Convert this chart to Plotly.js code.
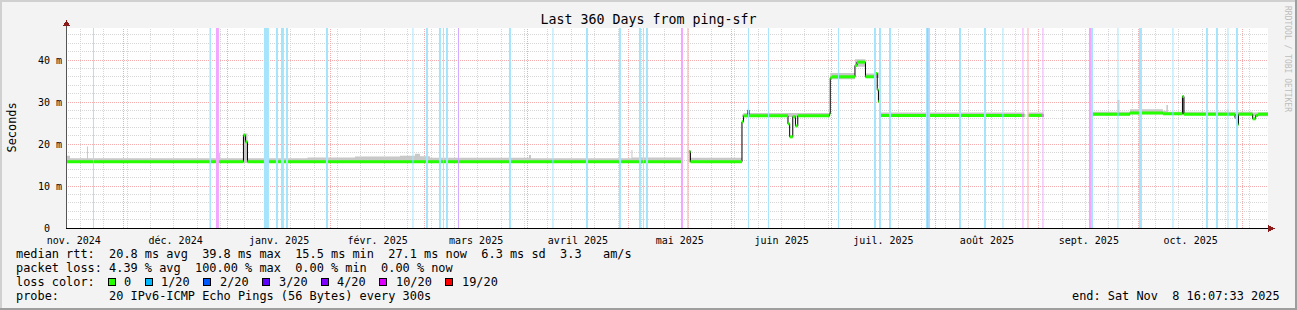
<!DOCTYPE html>
<html>
<head>
<meta charset="utf-8">
<script src="https://cdn.plot.ly/plotly-3.0.1.min.js"></script>
<style>
html,body{margin:0;padding:0;background:#f3f3f3;}
#chart{width:1297px;height:310px;}
#chart .shapelayer path{shape-rendering:crispEdges;}
</style>
</head>
<body>
<div id="chart"></div>
<script>
// ---------------- data ----------------
const chartTitle = 'Last 360 Days from ping-sfr';
const yAxisTitle = 'Seconds';
const rangeStart = '2024-11-13 16:07:33';
const rangeEnd = '2025-11-08 16:07:33';

const monthStarts = ['2024-11-01 00:00','2024-12-01 00:00','2025-01-01 00:00','2025-02-01 00:00','2025-03-01 00:00',
  '2025-04-01 00:00','2025-05-01 00:00','2025-06-01 00:00','2025-07-01 00:00','2025-08-01 00:00',
  '2025-09-01 00:00','2025-10-01 00:00','2025-11-01 00:00','2025-12-01 00:00'];
const monthLabels = ['nov. 2024','déc. 2024','janv. 2025','févr. 2025','mars 2025','avril 2025',
  'mai 2025','juin 2025','juil. 2025','août 2025','sept. 2025','oct. 2025'];
const weekGridStart = '2024-11-18 00:00';

const yTickVals = [0, 10, 20, 30, 40];
const yTickText = ['0', '10 m', '20 m', '30 m', '40 m'];
const yMinorStep = 2;
const yMax = 47.62;

// median rtt (ms), step values starting at each time; null = no data
const medianTimes = [
  '2024-11-13 16:07','2025-01-05 19:40','2025-01-06 10:00','2025-01-07 00:30',
  '2025-05-16 20:24','2025-05-17 10:50','2025-05-19 05:45','2025-05-19 16:30',
  '2025-06-04 03:00','2025-06-04 13:40','2025-06-05 22:00','2025-06-06 05:20',
  '2025-06-17 21:40','2025-06-18 09:50','2025-06-19 08:10','2025-06-20 03:20','2025-06-20 20:00',
  '2025-06-30 08:00','2025-06-30 13:40','2025-07-01 02:00',
  '2025-07-07 23:10','2025-07-08 13:40','2025-07-11 02:40',
  '2025-07-14 01:10','2025-07-14 15:20','2025-07-15 00:00','2025-07-15 13:00',
  '2025-08-27 17:30','2025-08-28 22:20','2025-09-02 10:00',
  '2025-09-16 07:00','2025-09-16 12:00','2025-09-28 07:40','2025-10-08 04:50',
  '2025-10-14 01:10','2025-10-14 12:00',
  '2025-10-29 18:30','2025-10-30 08:50','2025-10-30 19:40',
  '2025-11-04 01:40','2025-11-04 23:20','2025-11-05 15:50','2025-11-08 16:07'
];
const medianValues = [
  15.8, 22.1, 20.5, 15.8,
  15.8, null, 18.2, 15.8,
  25.3, 26.7, 28.1, 26.7,
  24.8, 21.7, 26.5, 24.3, 26.7,
  27.2, 35.7, 36.0,
  38.7, 39.5, 36.0,
  36.8, 32.9, 30.1, 26.8,
  null, 26.8, null,
  18.0, 27.1, 27.4, 27.2,
  31.3, 27.1,
  26.3, 24.6, 27.1,
  26.0, 26.8, 27.1, 27.1
];

// smoke envelope (ms), step values
const smokeTimes = [
  '2024-11-13 16:07','2024-11-13 23:20','2024-11-14 20:40','2024-11-19 22:50','2024-11-20 06:00',
  '2024-12-29 08:00','2024-12-29 18:40','2025-01-05 19:40','2025-01-07 00:30','2025-01-12 09:50',
  '2025-01-13 07:30','2025-01-25 00:00','2025-02-08 05:00','2025-02-21 16:30','2025-02-26 04:20',
  '2025-02-27 16:20','2025-03-02 16:00','2025-04-01 08:00','2025-04-01 22:20','2025-05-02 00:30',
  '2025-05-02 07:40','2025-05-05 11:20','2025-05-05 18:30','2025-05-17 10:50','2025-05-19 05:45',
  '2025-05-19 16:30','2025-06-04 03:00','2025-06-04 13:40','2025-06-05 22:00','2025-06-06 05:20',
  '2025-06-17 21:40','2025-06-20 20:00','2025-06-30 08:00','2025-06-30 13:40','2025-07-07 23:10',
  '2025-07-11 02:40','2025-07-14 01:10','2025-07-15 13:00','2025-07-29 09:10','2025-07-29 20:00',
  '2025-08-27 17:30','2025-08-28 22:20','2025-09-02 10:00','2025-09-16 07:00','2025-09-16 12:00',
  '2025-09-24 13:50','2025-09-25 04:20','2025-09-28 07:40','2025-10-08 04:50','2025-10-09 06:00',
  '2025-10-09 16:50','2025-10-14 01:10','2025-10-14 12:00','2025-10-27 12:45','2025-10-27 19:55',
  '2025-10-29 18:30','2025-10-30 19:40','2025-11-04 01:40','2025-11-04 23:20','2025-11-08 16:07'
];
const smokeLow = [
  15.5,15.5,15.5,15.5,15.5, 15.5,15.5,15.6,15.5,15.5, 15.5,15.5,15.5,15.5,15.5,
  15.5,15.5,15.5,15.5,15.5, 15.5,15.5,15.5,null,15.6, 15.5,26.4,26.4,26.4,26.4,
  26.4,26.4,26.9,35.4,38.4, 35.7,35.7,26.5,26.5,26.5, null,26.5,null,26.8,26.8,
  26.8,26.8,27.1,26.9,26.9, 26.8,26.8,26.8,26.8,26.8, 26.8,26.8,26.6,26.6,26.6
];
const smokeHigh = [
  16.6,17.2,16.6,19.4,16.6, 17.9,16.6,22.5,16.6,22.9, 16.6,16.8,17.0,17.2,17.7,
  17.1,16.7,17.4,16.6,18.6, 16.8,22.5,16.8,null,18.6, 16.7,27.0,27.4,28.6,27.4,
  27.4,27.4,27.6,36.9,40.2, 36.8,37.0,27.5,37.2,27.5, null,27.5,null,27.4,27.7,
  30.5,27.7,28.3,27.9,29.3, 27.7,31.5,27.7,28.3,27.7, 27.7,27.7,27.5,27.6,27.6
];
// darker smoke cores of spikes
const darkStart = ['2025-01-12 09:50','2025-07-29 10:30'];
const darkEnd = ['2025-01-13 07:30','2025-07-30 01:00'];
const darkLow = [15.8, 26.9];
const darkHigh = [22.0, 31.7];

// packet loss periods (loss class in n/20)
const lossStart = [
  '2024-11-21 18:00','2024-12-26 15:20','2024-12-28 14:00','2025-01-11 23:00','2025-01-15 13:10',
  '2025-01-17 01:10','2025-01-18 13:10','2025-01-30 12:40','2025-02-25 10:30','2025-03-01 11:30',
  '2025-03-05 08:50','2025-03-06 13:40','2025-03-07 11:20','2025-03-11 01:30','2025-03-26 08:10',
  '2025-04-08 08:40','2025-04-18 09:40','2025-04-28 06:40','2025-05-04 06:30','2025-05-05 11:20',
  '2025-05-06 08:50','2025-05-16 20:20','2025-05-18 19:10','2025-06-05 22:00','2025-06-11 21:50',
  '2025-07-02 21:10','2025-07-13 15:50','2025-07-15 03:50','2025-07-18 03:40','2025-07-29 05:30',
  '2025-07-29 14:25','2025-08-08 03:10','2025-08-15 14:50','2025-08-21 03:20','2025-08-27 03:10',
  '2025-08-28 15:10','2025-09-02 02:50','2025-09-16 01:10','2025-09-16 15:40','2025-09-24 13:50',
  '2025-10-01 00:30','2025-10-11 01:10','2025-10-21 02:10','2025-10-24 01:55','2025-10-27 12:45',
  '2025-10-30 01:40'
];
const lossEnd = [
  '2024-11-22 01:10','2024-12-27 02:10','2024-12-29 11:30','2025-01-13 11:00','2025-01-16 03:40',
  '2025-01-17 22:50','2025-01-19 03:40','2025-01-31 03:10','2025-02-25 17:40','2025-03-02 01:50',
  '2025-03-05 23:20','2025-03-06 20:50','2025-03-08 01:40','2025-03-11 08:40','2025-03-26 22:30',
  '2025-04-08 15:50','2025-04-19 00:00','2025-04-28 21:10','2025-05-04 20:50','2025-05-05 18:30',
  '2025-05-06 23:20','2025-05-17 10:50','2025-05-19 02:20','2025-06-06 05:20','2025-06-12 05:00',
  '2025-07-03 04:20','2025-07-14 06:10','2025-07-15 18:10','2025-07-18 18:00','2025-07-30 10:20',
  '2025-07-29 21:40','2025-08-08 17:30','2025-08-16 05:20','2025-08-21 10:30','2025-08-27 10:20',
  '2025-08-28 22:20','2025-09-02 10:05','2025-09-16 15:40','2025-09-17 06:00','2025-09-24 21:10',
  '2025-10-01 22:05','2025-10-11 08:25','2025-10-21 16:35','2025-10-24 16:20','2025-10-27 19:55',
  '2025-10-30 16:05'
];
const lossClass = [
  1,1,10,1,1, 1,1,1,1,1, 1,1,1,4,1, 1,1,1,1,1, 1,10,19,1,1,
  1,1,1,1,1, 4,1,1,1,10, 19,10,10,1,1, 1,1,1,1,1, 1
];

// legend
const lossLegendLabels = ['0','1/20','2/20','3/20','4/20','10/20','19/20'];
const lossLegendColors = ['#26ff00','#00b8ff','#0059ff','#5e00ff','#7e00ff','#dd00ff','#ff0000'];
const lossLegendClasses = [0,1,2,3,4,10,19];
const legendRtt = 'median rtt:  20.8 ms avg  39.8 ms max  15.5 ms min  27.1 ms now  6.3 ms sd  3.3   am/s';
const legendLoss = 'packet loss: 4.39 % avg  100.00 % max  0.00 % min  0.00 % now';
const legendLossColor = 'loss color:';
const legendProbe = 'probe:       20 IPv6-ICMP Echo Pings (56 Bytes) every 300s';
const legendEnd = 'end: Sat Nov  8 16:07:33 2025';
const watermark = 'RRDTOOL / TOBI OETIKER';

// ---------------- helpers ----------------
const T = s => Date.parse(s.replace(' ', 'T') + 'Z');
const nb = s => s.replace(/ /g, '\u00a0');
const W = 1297, H = 310, L = 66, R = 1268, TOP = 28, BOT = 228;
const PX = p => (p - L) / (R - L);
const PY = p => (BOT - p) / (BOT - TOP);
const FONT = 'DejaVu Sans Mono, monospace';
const GRID_MINOR = 'rgb(214,214,214)';
const GRID_MAJOR = 'rgb(244,172,172)';

const lossBarColor = {1:'rgb(166,228,252)',2:'rgb(166,197,255)',3:'rgb(198,166,255)',4:'rgb(211,168,255)',10:'rgb(243,166,255)',19:'rgb(255,168,168)'};
const lossLineColor = {};
lossLegendClasses.forEach((c, i) => lossLineColor[c] = lossLegendColors[i]);

const traces = [];

// loss bars (full height)
traces.push({
  type: 'bar', yaxis: 'y2',
  x: lossStart.map((s, i) => (T(s) + T(lossEnd[i])) / 2),
  width: lossStart.map((s, i) => T(lossEnd[i]) - T(s)),
  y: lossStart.map(() => 1), base: 0,
  marker: {color: lossClass.map(c => lossBarColor[c]), line: {width: 0}},
  hoverinfo: 'skip', showlegend: false
});

// smoke polygons from step envelope
function stepPoly(times, lo, hi) {
  const xs = [], ys = [];
  let i = 0;
  while (i < times.length - 1) {
    if (hi[i] == null) { i++; continue; }
    const up = [], dn = [];
    let j = i;
    while (j < times.length - 1 && hi[j] != null) {
      const a = T(times[j]), b = T(times[j + 1]);
      up.push([a, hi[j]], [b, hi[j]]);
      dn.push([a, lo[j]], [b, lo[j]]);
      j++;
    }
    up.concat(dn.reverse()).forEach(p => { xs.push(p[0]); ys.push(p[1]); });
    xs.push(null); ys.push(null);
    i = j;
  }
  return {xs, ys};
}
const smoke = stepPoly(smokeTimes, smokeLow, smokeHigh);
traces.push({type: 'scatter', mode: 'lines', x: smoke.xs, y: smoke.ys, fill: 'toself',
  fillcolor: '#c8c8c8', line: {width: 0, color: '#c8c8c8'}, hoverinfo: 'skip', showlegend: false});
const darkX = [], darkY = [];
darkStart.forEach((s, i) => {
  const a = T(s), b = T(darkEnd[i]);
  darkX.push(a, b, b, a, null); darkY.push(darkHigh[i], darkHigh[i], darkLow[i], darkLow[i], null);
});
traces.push({type: 'scatter', mode: 'lines', x: darkX, y: darkY, fill: 'toself',
  fillcolor: '#8e8e8e', line: {width: 0, color: '#8e8e8e'}, hoverinfo: 'skip', showlegend: false});

// black step line (connectors)
traces.push({type: 'scatter', mode: 'lines', x: medianTimes.map(T), y: medianValues,
  line: {shape: 'hv', width: 1, color: '#000000'}, connectgaps: false, hoverinfo: 'skip', showlegend: false});

// green median segments
const gx = [], gy = [];
for (let i = 0; i < medianTimes.length - 1; i++) {
  if (medianValues[i] == null) continue;
  gx.push(T(medianTimes[i]), T(medianTimes[i + 1]), null);
  gy.push(medianValues[i], medianValues[i], null);
}
traces.push({type: 'scatter', mode: 'lines', x: gx, y: gy,
  line: {width: 3, color: lossLineColor[0]}, hoverinfo: 'skip', showlegend: false});

// loss-coloured median segments
const overlay = {};
lossStart.forEach((s, k) => {
  const a = T(s), b = T(lossEnd[k]), c = lossClass[k];
  for (let i = 0; i < medianTimes.length - 1; i++) {
    if (medianValues[i] == null) continue;
    const s0 = Math.max(a, T(medianTimes[i])), e0 = Math.min(b, T(medianTimes[i + 1]));
    if (e0 > s0) {
      if (!overlay[c]) overlay[c] = {x: [], y: []};
      overlay[c].x.push(s0, e0, null); overlay[c].y.push(medianValues[i], medianValues[i], null);
    }
  }
});
Object.keys(overlay).forEach(c => traces.push({type: 'scatter', mode: 'lines', x: overlay[c].x, y: overlay[c].y,
  line: {width: 3, color: lossLineColor[c]}, hoverinfo: 'skip', showlegend: false}));

// ---------------- layout ----------------
const monthMs = monthStarts.map(T);
const labelVals = monthLabels.map((_, i) => (monthMs[i] + monthMs[i + 1]) / 2);
const x0 = T(rangeStart), x1 = T(rangeEnd);

const shapes = [];
const dotted = col => ({color: col, width: 1, dash: '1px,1px'});
// weekly minor vertical grid
for (let t = T(weekGridStart); t < x1; t += 7 * 86400000) {
  shapes.push({type: 'line', xref: 'x', yref: 'paper', x0: t, x1: t, y0: 0, y1: 1, line: dotted(GRID_MINOR), layer: 'below'});
}
// minor horizontal grid
for (let v = yMinorStep; v < yMax; v += yMinorStep) {
  if (yTickVals.indexOf(v) >= 0) continue;
  shapes.push({type: 'line', xref: 'paper', yref: 'y', x0: 0, x1: 1, y0: v, y1: v, line: dotted(GRID_MINOR), layer: 'below'});
}
// major horizontal grid
yTickVals.forEach(v => {
  if (v > 0) shapes.push({type: 'line', xref: 'paper', yref: 'y', x0: 0, x1: 1, y0: v, y1: v, line: dotted(GRID_MAJOR), layer: 'below'});
});
// month major vertical grid
monthMs.forEach(m => {
  if (m > x0 && m < x1) shapes.push({type: 'line', xref: 'x', yref: 'paper', x0: m, x1: m, y0: 0, y1: 1,
    line: dotted(GRID_MAJOR), layer: 'below'});
});
// frame
const rectPx = (xa, ya, xb, yb, col) => ({type: 'rect', xref: 'paper', yref: 'paper',
  x0: PX(xa), x1: PX(xb), y0: PY(yb), y1: PY(ya), fillcolor: col, line: {width: 0}, layer: 'above'});
shapes.push(rectPx(0, 0, W, 2, '#d0d0d0'));
shapes.push(rectPx(0, 0, 2, H, '#d0d0d0'));
shapes.push(rectPx(W - 2, 0, W, H, '#9e9e9e'));
shapes.push(rectPx(0, H - 2, W, H, '#9e9e9e'));
// axis lines + arrows
shapes.push({type: 'line', xref: 'paper', yref: 'paper', x0: PX(66.5), x1: PX(66.5), y0: PY(228), y1: PY(23),
  line: {color: '#555555', width: 1}, layer: 'above'});
shapes.push({type: 'line', xref: 'paper', yref: 'paper', x0: PX(66), x1: PX(1270), y0: PY(228.5), y1: PY(228.5),
  line: {color: '#000000', width: 1}, layer: 'above'});
shapes.push({type: 'path', xref: 'paper', yref: 'paper', layer: 'above',
  path: `M ${PX(63)},${PY(26)} L ${PX(70)},${PY(26)} L ${PX(66.5)},${PY(20)} Z`, fillcolor: '#8b1a1a', line: {width: 0}});
shapes.push({type: 'path', xref: 'paper', yref: 'paper', layer: 'above',
  path: `M ${PX(1268)},${PY(225)} L ${PX(1268)},${PY(232)} L ${PX(1275)},${PY(228.5)} Z`, fillcolor: '#8b1a1a', line: {width: 0}});

const annotations = [];
const txt = (text, px, py, opts) => Object.assign({text: nb(text), xref: 'paper', yref: 'paper', x: PX(px), y: PY(py),
  xanchor: 'left', yanchor: 'middle', showarrow: false, font: {family: FONT, size: 11.9, color: '#000'}}, opts || {});
annotations.push(txt(legendRtt, 14, 254));
annotations.push(txt(legendLoss, 14, 268));
annotations.push(txt(legendLossColor, 14, 282));
annotations.push(txt(legendProbe, 14, 296));
annotations.push(txt(legendEnd, 1282, 296, {xanchor: 'right'}));
annotations.push(txt(yAxisTitle, 11, 127.5, {xanchor: 'center', textangle: -90}));
annotations.push(txt(watermark, 1288, 59, {xanchor: 'center', textangle: 90, font: {family: FONT, size: 8, color: '#bdbdbd'}}));

// loss colour legend
let lx = 108;
const CW = 7.17;
lossLegendLabels.forEach((lab, i) => {
  shapes.push({type: 'rect', xref: 'paper', yref: 'paper', x0: PX(lx), x1: PX(lx + 7), y0: PY(285), y1: PY(278),
    fillcolor: lossLegendColors[i], line: {color: '#000', width: 1}, layer: 'above'});
  annotations.push(txt(lab, lx + 14, 282));
  lx = lx + 15 + lab.length * CW + 15;
});

// y tick labels padded (right-aligned as "0  " like rrdtool)
const yTickLabels = yTickText.map(s => s.length < 4 ? s + '<span style="color:rgba(0,0,0,0)">mm</span>' : nb(s));

const layout = {
  width: W, height: H,
  margin: {l: L, r: W - R, t: TOP, b: H - BOT, pad: 0},
  paper_bgcolor: '#f3f3f3', plot_bgcolor: '#ffffff',
  showlegend: false, barmode: 'overlay',
  title: {text: chartTitle, x: 0.5, xref: 'container', xanchor: 'center', y: 1 - 19 / H, yref: 'container', yanchor: 'middle',
    font: {family: FONT, size: 13.3, color: '#000'}},
  xaxis: {
    type: 'date', range: [x0, x1], fixedrange: true,
    tickmode: 'array', tickvals: labelVals, ticktext: monthLabels,
    showgrid: false, zeroline: false, showline: false, ticks: 'outside', ticklen: 3, tickcolor: 'rgba(0,0,0,0)',
    tickfont: {family: FONT, size: 10, color: '#000'}
  },
  yaxis: {
    range: [0, yMax], fixedrange: true,
    tickmode: 'array', tickvals: yTickVals, ticktext: yTickLabels,
    showgrid: false, zeroline: false, showline: false, ticks: 'outside', ticklen: 1, tickcolor: 'rgba(0,0,0,0)',
    tickfont: {family: FONT, size: 10, color: '#000'}
  },
  yaxis2: {overlaying: 'y', range: [0, 1], visible: false, fixedrange: true},
  shapes: shapes,
  annotations: annotations
};

Plotly.newPlot('chart', traces, layout, {displayModeBar: false, staticPlot: true});
</script>
</body>
</html>
